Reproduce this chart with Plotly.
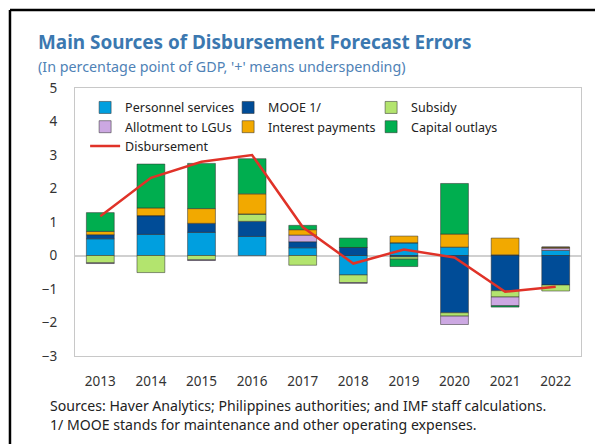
import plotly.graph_objects as go

years = ["2013", "2014", "2015", "2016", "2017", "2018", "2019", "2020", "2021", "2022"]
personnel = [0.50, 0.63, 0.69, 0.57, 0.23, -0.58, 0.38, 0.25, 0.02, 0.15]
mooe = [0.12, 0.56, 0.27, 0.45, 0.18, 0.24, -0.04, -1.71, -1.05, -0.88]
subsidy = [-0.22, -0.51, -0.13, 0.22, -0.29, -0.23, -0.07, -0.10, -0.19, -0.18]
allotment = [-0.02, 0.0, -0.02, 0.0, 0.20, -0.02, 0.0, -0.25, -0.26, 0.07]
interest = [0.10, 0.23, 0.44, 0.60, 0.16, 0.0, 0.20, 0.39, 0.50, 0.03]
capital = [0.56, 1.31, 1.35, 1.05, 0.13, 0.28, -0.22, 1.51, -0.04, 0.0]
disbursement = [1.17, 2.32, 2.80, 3.00, 0.85, -0.24, 0.18, -0.06, -1.08, -0.93]

series = [
    ("Personnel services", personnel, "#009fdf"),
    ("MOOE 1/", mooe, "#004c97"),
    ("Subsidy", subsidy, "#b3e46e"),
    ("Allotment to LGUs", allotment, "#cca8e2"),
    ("Interest payments", interest, "#f2a900"),
    ("Capital outlays", capital, "#00ae4f"),
]

FONT = "Noto Sans"
fig = go.Figure()
for name, vals, col in series:
    fig.add_trace(go.Bar(
        x=years, y=vals, name=name,
        marker=dict(color=col, line=dict(color="rgba(45,45,45,0.65)", width=0.8)),
    ))
fig.add_trace(go.Scatter(
    x=years, y=disbursement, name="Disbursement", mode="lines",
    line=dict(color="#e03228", width=2.5),
))

# page body has an 8px margin, so the figure is shrunk and shifted accordingly
fig.update_layout(
    width=595, height=436,
    margin=dict(l=67, r=22, t=80, b=88),
    paper_bgcolor="white", plot_bgcolor="white",
    barmode="relative", bargap=0.45,
    font=dict(family=FONT, size=12.5, color="#222222"),
    showlegend=True,
    legend=dict(
        orientation="h", x=0.02, y=0.982, xanchor="left", yanchor="top",
        entrywidth=98, bgcolor="rgba(0,0,0,0)",
        font=dict(family=FONT, size=12.5, color="#222222"),
        traceorder="normal",
    ),
    xaxis=dict(
        showgrid=False, showline=True, linecolor="#c8c8c8", linewidth=1, mirror=True,
        ticks="", ticklabelstandoff=13, tickfont=dict(size=13.5, color="#333333"),
        zeroline=False,
    ),
    yaxis=dict(
        range=[-3, 5], dtick=1, showgrid=False, showline=True, linecolor="#c8c8c8",
        linewidth=1, mirror=True, ticks="", ticklabelstandoff=14,
        tickfont=dict(size=13.5, color="#333333"),
        zeroline=True, zerolinecolor="#d0d0d0", zerolinewidth=1.5,
    ),
    annotations=[
        dict(text="<b>Main Sources of Disbursement Forecast Errors</b>", xref="paper", yref="paper",
             x=-0.077, y=1.172, xanchor="left", yanchor="middle", showarrow=False,
             font=dict(family=FONT, size=18.9, color="#3b78b0")),
        dict(text="(In percentage point of GDP, '+' means underspending)", xref="paper", yref="paper",
             x=-0.077, y=1.082, xanchor="left", yanchor="middle", showarrow=False,
             font=dict(family=FONT, size=14.3, color="#4f82b6")),
        dict(text="Sources: Haver Analytics; Philippines authorities; and IMF staff calculations.",
             xref="paper", yref="paper", x=-0.053, y=-0.183, xanchor="left", yanchor="middle",
             align="left", showarrow=False,
             font=dict(family=FONT, size=14.1, color="#222222")),
        dict(text="1/ MOOE stands for maintenance and other operating expenses.",
             xref="paper", yref="paper", x=-0.053, y=-0.257, xanchor="left", yanchor="middle",
             align="left", showarrow=False,
             font=dict(family=FONT, size=14.1, color="#222222")),
    ],
    shapes=[
        dict(type="line", xref="paper", yref="paper", x0=-0.1285, x1=1.06, y0=1.291, y1=1.291,
             line=dict(color="black", width=2.5)),
        dict(type="line", xref="paper", yref="paper", x0=-0.1285, x1=-0.1285, y0=1.291, y1=-0.35,
             line=dict(color="black", width=2.5)),
    ],
)

fig.write_html("out.html")
